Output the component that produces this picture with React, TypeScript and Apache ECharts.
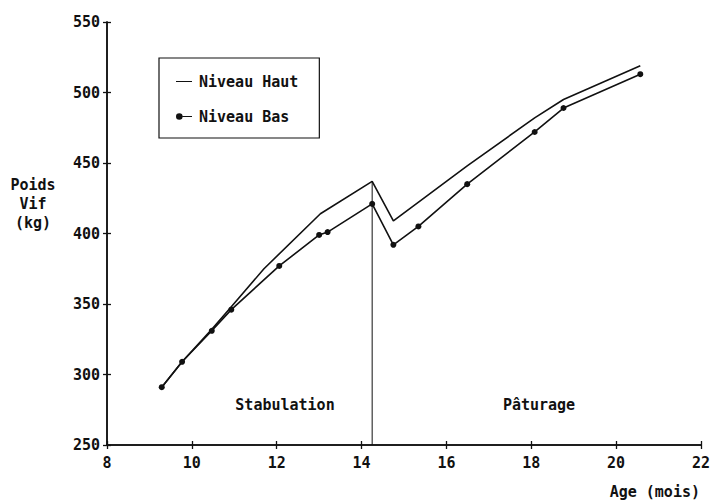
import React, { useEffect, useRef } from "react";
import * as echarts from "echarts";

const ageBas = [9.29, 9.77, 10.47, 10.93, 12.06, 13.0, 13.2, 14.25, 14.75, 15.34, 16.49, 18.08, 18.76, 20.57];
const poidsBas = [291, 309, 331, 346, 377, 399, 401, 421, 392, 405, 435, 472, 489, 513];

const ageHaut = [9.29, 9.77, 10.47, 10.93, 11.7, 13.03, 14.25, 14.75, 16.49, 18.08, 18.76, 20.57];
const poidsHaut = [291, 309, 332, 348, 375, 414, 437, 409, 448, 482, 495, 519];

const separationAge = [14.25, 14.25];
const separationPoids = [250, 437];

const xTicks = { min: 8, max: 22, interval: 2 };
const yTicks = { min: 250, max: 550, interval: 50 };

const phaseLabels = [
  { text: "Stabulation", x: 285, y: 405 },
  { text: "Pâturage", x: 539, y: 405 },
];

const FONT = "DejaVu Sans Mono";
const INK = "#111";

const ICON_LINE = "path://M0,0L0.01,0Z M0,6.4L16,6.4L16,7.6L0,7.6Z M0,14L0.01,14Z";
const ICON_DOT_LINE =
  "path://M0,0L0.01,0Z M0,7A3.3,3.3 0 1,0 6.6,7A3.3,3.3 0 1,0 0,7Z M6.6,6.4L16,6.4L16,7.6L6.6,7.6Z M0,14L0.01,14Z";

export default function App() {
  const ref = useRef<HTMLDivElement>(null);
  useEffect(() => {
    if (!ref.current) return;
    const chart = echarts.init(ref.current, null, { renderer: "svg" });
    const labelStyle = { fontFamily: FONT, fontWeight: "bold" as const, fontSize: 15, color: INK };
    const axisLine = { show: true, lineStyle: { color: INK, width: 1.5 } };
    const makeX = (inside: boolean) => ({
      type: "value" as const,
      min: xTicks.min,
      max: xTicks.max,
      interval: xTicks.interval,
      position: "bottom" as const,
      axisLine,
      axisTick: { show: true, inside, length: 4, lineStyle: { color: INK, width: 1.3 } },
      axisLabel: inside ? { show: false } : { ...labelStyle, margin: 10 },
      splitLine: { show: false },
    });
    const makeY = (inside: boolean) => ({
      type: "value" as const,
      min: yTicks.min,
      max: yTicks.max,
      interval: yTicks.interval,
      position: "left" as const,
      axisLine,
      axisTick: { show: true, inside, length: 4, lineStyle: { color: INK, width: 1.3 } },
      axisLabel: inside ? { show: false } : { ...labelStyle, margin: 7 },
      splitLine: { show: false },
    });
    chart.setOption({
      animation: false,
      backgroundColor: "#fff",
      grid: { left: 107, right: 10, top: 22, bottom: 56, containLabel: false },
      xAxis: [makeX(false), makeX(true)],
      yAxis: [makeY(false), makeY(true)],
      legend: {
        orient: "vertical",
        left: 159,
        top: 58,
        padding: [16, 21, 14, 17],
        itemGap: 20,
        itemWidth: 16,
        itemHeight: 14,
        borderColor: INK,
        borderWidth: 1.2,
        backgroundColor: "#fff",
        textStyle: { ...labelStyle, lineHeight: 14, padding: [0, 0, 0, 2] },
        itemStyle: { color: INK, borderWidth: 0 },
        data: [
          { name: "Niveau Haut", icon: ICON_LINE },
          { name: "Niveau Bas", icon: ICON_DOT_LINE },
        ],
      },
      series: [
        {
          name: "Niveau Haut",
          type: "line",
          data: ageHaut.map((a, i) => [a, poidsHaut[i]]),
          symbol: "none",
          lineStyle: { color: INK, width: 1.6 },
          itemStyle: { color: INK },
        },
        {
          name: "Niveau Bas",
          type: "line",
          data: ageBas.map((a, i) => [a, poidsBas[i]]),
          symbol: "circle",
          symbolSize: 6,
          lineStyle: { color: INK, width: 1.6 },
          itemStyle: { color: INK },
        },
        {
          name: "separation",
          type: "line",
          data: separationAge.map((a, i) => [a, separationPoids[i]]),
          symbol: "none",
          lineStyle: { color: INK, width: 1 },
          silent: true,
        },
      ],
      graphic: [
        ...phaseLabels.map((p) => ({
          type: "text",
          x: p.x,
          y: p.y,
          style: { text: p.text, font: `bold 15px "${FONT}"`, fill: INK, align: "center", verticalAlign: "middle" },
        })),
        {
          type: "text",
          x: 33,
          y: 204,
          style: {
            text: "Poids\nVif\n(kg)",
            font: `bold 15px "${FONT}"`,
            lineHeight: 19,
            fill: INK,
            align: "center",
            verticalAlign: "middle",
          },
        },
        {
          type: "text",
          x: 700,
          y: 492,
          style: { text: "Age (mois)", font: `bold 15px "${FONT}"`, fill: INK, align: "right", verticalAlign: "middle" },
        },
      ],
    });
    return () => chart.dispose();
  }, []);
  return <div ref={ref} style={{ position: "fixed", left: 0, top: 0, width: 713, height: 501 }} />;
}
